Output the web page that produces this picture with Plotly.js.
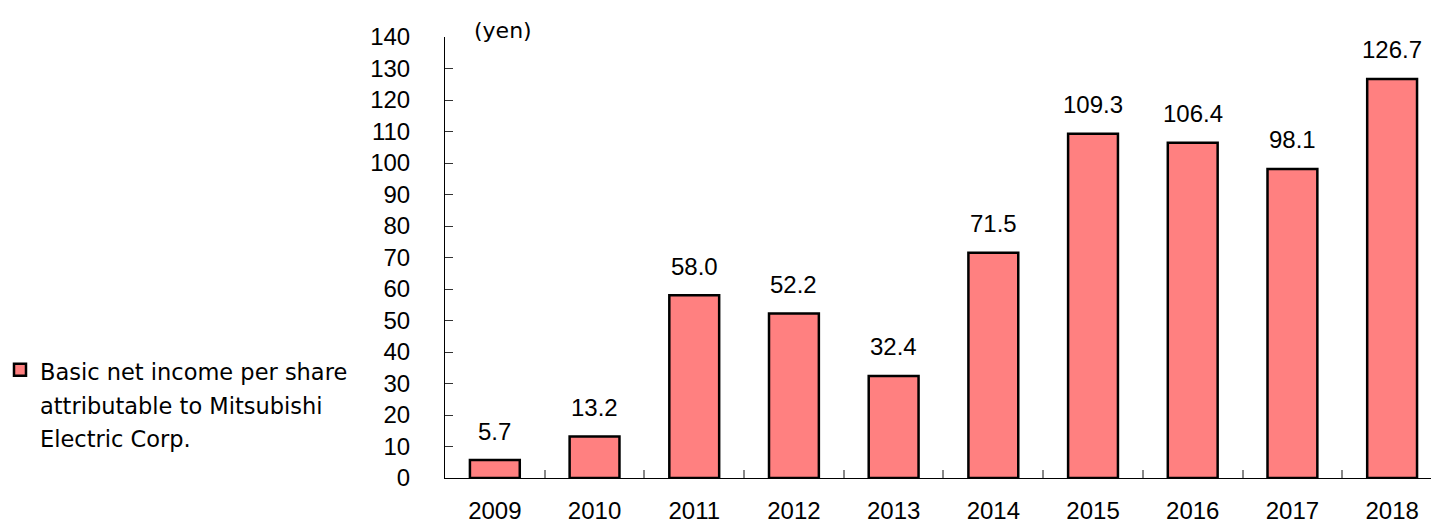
<!DOCTYPE html>
<html>
<head>
<meta charset="utf-8">
<script src="https://cdn.plot.ly/plotly-3.0.1.min.js"></script>
<style>html,body{margin:0;padding:0;background:#fff;}#chart{width:1431px;height:523px;}</style>
</head>
<body>
<div id="chart"></div>
<script>
const years = ["2009","2010","2011","2012","2013","2014","2015","2016","2017","2018"];
const eps = [5.7, 13.2, 58.0, 52.2, 32.4, 71.5, 109.3, 106.4, 98.1, 126.7];
const seriesNameLines = ["Basic net income per share", "attributable to Mitsubishi", "Electric Corp."];
const unitLabel = "(yen)";
const yTicks = [0,10,20,30,40,50,60,70,80,90,100,110,120,130,140];

const NUMFONT = "'Liberation Sans', Arial, sans-serif";
const TXTFONT = "'DejaVu Sans', sans-serif";

const trace = {
  type: 'bar',
  x: years,
  y: eps,
  name: '<span style="font-size:22.5px">' + seriesNameLines.join('<br>') + '</span>',
  width: 0.5,
  marker: {color: '#FF8080', line: {color: '#000000', width: 2.5}},
  hoverinfo: 'x+y'
};

const annotations = years.map((yr, i) => ({
  x: i, y: eps[i], xref: 'x', yref: 'y',
  text: eps[i].toFixed(1), showarrow: false,
  xanchor: 'center', yanchor: 'middle',
  yshift: 29, font: {family: NUMFONT, size: 24, color: '#000'}
}));
annotations.push({
  xref: 'paper', yref: 'paper', x: 0.027, y: 1.0, xanchor: 'left', yanchor: 'middle',
  text: unitLabel, showarrow: false, yshift: 7,
  font: {family: TXTFONT, size: 22, color: '#000'}
});

const layout = {
  width: 1431, height: 523,
  margin: {l: 445, r: 0, t: 37, b: 45, pad: 0},
  paper_bgcolor: '#fff', plot_bgcolor: '#fff',
  font: {family: NUMFONT, size: 23, color: '#000'},
  bargap: 0.5,
  xaxis: {
    type: 'category', range: [-0.5, 9.39],
    showline: true, linecolor: '#000', linewidth: 1,
    ticks: 'inside', tickson: 'boundaries', ticklen: 8, tickcolor: '#888', tickwidth: 2,
    showgrid: false, zeroline: false,
    tickfont: {family: NUMFONT, size: 24, color: '#000'},
    ticklabelstandoff: 11
  },
  yaxis: {
    range: [0, 140], tickvals: yTicks, ticktext: yTicks.map(String),
    showline: true, linecolor: '#000', linewidth: 1,
    ticks: 'inside', ticklen: 8, tickcolor: '#333', tickwidth: 1,
    showgrid: false, zeroline: false,
    tickfont: {family: NUMFONT, size: 24, color: '#000'},
    ticklabelstandoff: 29
  },
  showlegend: true,
  legend: {
    xref: 'container', yref: 'container',
    x: 0.0, y: 0.228, xanchor: 'left', yanchor: 'middle',
    valign: 'top',
    font: {family: TXTFONT, size: 26, color: '#000'},
    bgcolor: 'rgba(0,0,0,0)', itemwidth: 30, tracegroupgap: 0, borderwidth: 0
  },
  annotations: annotations
};

Plotly.newPlot('chart', [trace], layout, {displayModeBar: false, staticPlot: true});
</script>
</body>
</html>
